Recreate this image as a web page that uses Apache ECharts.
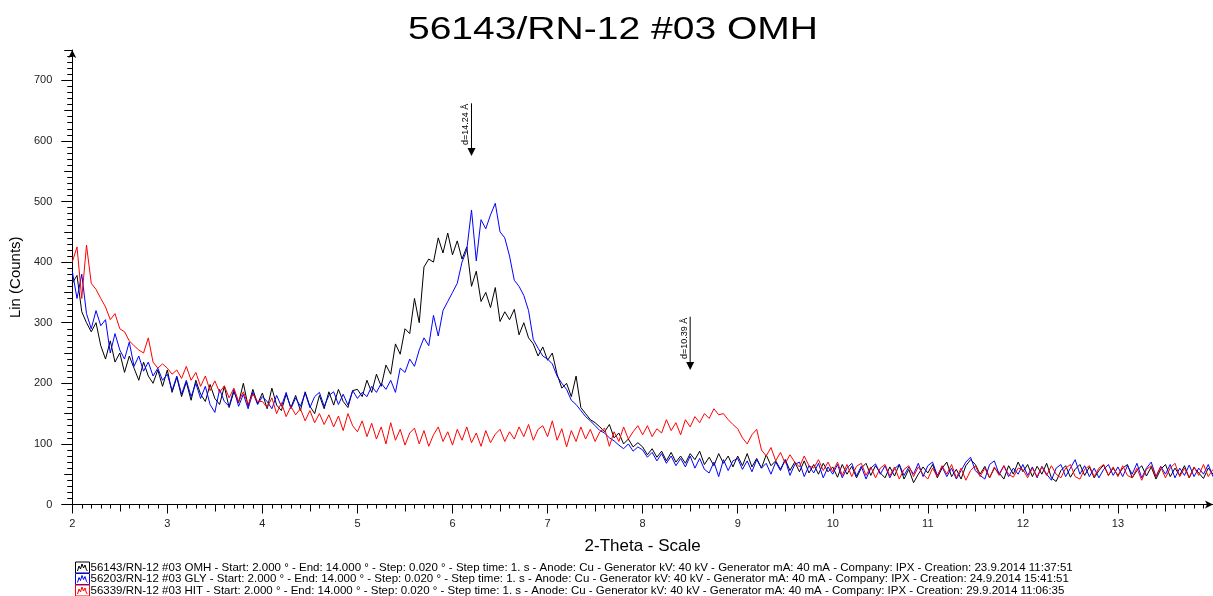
<!DOCTYPE html>
<html>
<head>
<meta charset="utf-8">
<script src="https://cdn.jsdelivr.net/npm/echarts@6/dist/echarts.min.js"></script>
<style>
html,body{margin:0;padding:0;background:#fff;}
#chart{width:1213px;height:596px;}
</style>
</head>
<body>
<div id="chart"></div>
<script>
// Scan grid (degrees 2-Theta) used by all three patterns
const twoThetaStart = 2.0;
const twoThetaStep = 0.05;

// Series values (Lin counts), every 0.05 deg from 2.00 to 14.00
const omhCounts = [
  365,378,318,300,285,300,262,240,270,235,250,218,245,225,205,235,212,200,222,195,
  222,185,210,178,202,172,205,182,170,198,175,165,195,160,186,168,200,162,190,166,
  184,158,192,164,155,182,160,180,155,186,162,150,180,158,186,164,190,170,160,188,
  190,178,205,185,215,195,230,215,265,248,290,282,340,300,392,405,400,440,415,448,
  412,435,405,425,360,385,335,350,325,358,302,318,305,322,280,300,275,265,245,260,
  238,250,215,192,200,178,212,160,150,140,135,128,120,132,110,118,100,108,95,102,
  95,82,92,78,88,72,86,70,80,68,84,74,88,66,78,64,84,68,80,62,
  80,64,84,62,76,60,82,64,72,58,74,56,70,54,72,52,66,50,68,54,
  62,45,66,50,63,44,60,68,48,64,52,44,62,47,66,42,58,36,50,62,
  52,66,44,60,70,46,58,42,64,74,66,50,63,44,60,52,42,64,50,70,
  54,66,46,63,50,68,44,38,56,64,45,58,66,48,62,44,56,65,48,60,
  48,60,66,44,56,64,47,62,42,58,66,46,60,48,64,44,61,52,43,60,
  50
];
const glyCounts = [
  385,340,380,315,290,320,295,305,250,282,255,240,268,228,245,220,235,212,225,205,
  215,188,212,182,205,178,200,175,195,165,152,190,170,162,190,162,182,158,185,165,
  178,170,158,180,162,185,158,176,162,184,160,178,185,162,180,186,165,182,164,188,
  175,185,178,195,185,200,190,205,185,225,218,240,228,255,275,262,312,278,320,335,
  350,365,400,420,486,402,470,455,478,497,450,440,410,370,360,345,320,272,258,245,
  240,232,212,200,190,172,165,155,145,138,130,122,118,110,105,98,92,100,88,95,
  90,78,86,72,84,68,80,64,76,62,80,60,76,58,52,70,46,74,56,72,
  76,58,72,54,74,60,68,50,70,56,74,48,66,70,46,64,52,68,44,62,
  50,66,44,60,68,47,63,42,60,67,50,64,44,59,66,48,62,50,68,46,
  64,70,48,62,46,60,42,56,70,78,56,48,42,66,72,50,64,46,60,50,
  66,48,62,44,63,50,40,60,66,46,60,74,50,64,46,60,44,58,66,48,
  62,46,64,50,68,44,60,70,46,63,50,66,44,60,48,65,46,60,50,66,
  46
];
const hitCounts = [
  400,425,340,428,365,355,340,326,305,315,290,285,270,262,255,250,275,235,225,232,
  225,215,222,208,228,205,218,195,212,188,204,185,196,176,192,170,186,165,182,170,
  170,160,176,150,168,145,162,148,158,138,155,135,150,132,148,128,146,122,150,130,
  120,138,112,134,108,128,100,135,106,124,98,118,126,100,122,96,115,128,104,120,
  98,124,106,128,102,118,96,122,102,116,124,104,120,108,128,112,132,106,124,130,
  112,138,106,125,95,122,104,128,108,124,104,120,126,96,120,104,128,108,120,130,
  115,130,112,125,118,140,122,135,115,140,128,145,135,150,142,158,148,150,140,132,
  125,110,100,115,124,90,80,94,72,86,68,82,70,62,80,64,60,74,56,70,
  54,70,48,66,46,63,68,48,62,44,60,66,47,62,42,58,64,46,62,50,
  42,60,46,64,50,66,44,60,40,56,64,46,60,44,62,48,64,50,45,60,
  58,44,60,46,62,48,64,50,44,60,66,46,42,58,64,46,60,66,48,62,
  46,64,48,44,60,40,58,64,46,62,44,60,68,46,60,44,62,48,66,46,
  58
];

// Series names and legend texts
const seriesNames = ['56143/RN-12 #03 OMH', '56203/RN-12 #03 GLY', '56339/RN-12 #03 HIT'];
const creationDates = ['23.9.2014 11:37:51', '24.9.2014 15:41:51', '29.9.2014 11:06:35'];
const seriesColors = ['#000000', '#0000ff', '#ff0000'];

// Tick labels
const xTickValues = [2,3,4,5,6,7,8,9,10,11,12,13];
const yTickValues = [0,100,200,300,400,500,600,700];

// d-spacing markers
const markerTwoTheta = [6.20, 8.50];
const markerTop = [662, 310];
const markerTip = [575, 222];
const markerLabels = ['d=14.24 \u00C5', 'd=10.39 \u00C5'];

const titleText = '56143/RN-12 #03 OMH';
const FONT = '"Liberation Sans", Arial, sans-serif';

function toPairs(vals) {
  return vals.map((v, i) => [+(twoThetaStart + i * twoThetaStep).toFixed(2), v]);
}
const allCounts = [omhCounts, glyCounts, hitCounts];
const legendTexts = {};
seriesNames.forEach((n, i) => {
  legendTexts[n] = n + ' - Start: 2.000 \u00B0 - End: 14.000 \u00B0 - Step: 0.020 \u00B0 - Step time: 1. s - Anode: Cu - Generator kV: 40 kV - Generator mA: 40 mA - Company: IPX - Creation: ' + creationDates[i];
});

const iconPath = 'path://M0,0H14V11H0Z M2,9L3.5,4L5,7L6.5,2L8,6L9.5,3L11,8L12,9';
const legendTops = [559.5, 571, 582.5];

const chart = echarts.init(document.getElementById('chart'), null, {renderer: 'canvas'});

const lineSeries = seriesNames.map((n, i) => ({
  name: n,
  type: 'line',
  xAxisIndex: 0,
  yAxisIndex: 0,
  data: toPairs(allCounts[i]),
  showSymbol: false,
  symbol: 'none',
  animation: false,
  lineStyle: {color: seriesColors[i], width: 1},
  itemStyle: {color: seriesColors[i]},
  z: 2 + i
}));

const markerSeries = {
  type: 'custom',
  xAxisIndex: 0,
  yAxisIndex: 0,
  silent: true,
  animation: false,
  clip: false,
  z: 10,
  data: markerTwoTheta.map((x, i) => [x, markerTop[i], markerTip[i]]),
  encode: {x: 0, y: [1, 2]},
  renderItem: function (params, api) {
    const x = api.value(0), top = api.value(1), tip = api.value(2);
    const pTop = api.coord([x, top]);
    const pTip = api.coord([x, tip]);
    const i = params.dataIndex;
    return {
      type: 'group',
      children: [
        {type: 'line', shape: {x1: pTop[0], y1: pTop[1], x2: pTip[0], y2: pTip[1] - 7}, style: {stroke: '#000', lineWidth: 1}},
        {type: 'polygon', shape: {points: [[pTip[0] - 4, pTip[1] - 8], [pTip[0] + 4, pTip[1] - 8], [pTip[0], pTip[1]]]}, style: {fill: '#000'}},
        {type: 'text', x: pTip[0] - 1, y: pTip[1] - 11, rotation: Math.PI / 2,
          style: {text: markerLabels[i], font: '9px ' + FONT, fill: '#000', align: 'left', verticalAlign: 'bottom'}}
      ]
    };
  }
};

const legends = seriesNames.map((n, i) => ({
  orient: 'horizontal',
  left: 73,
  top: legendTops[i],
  padding: 0,
  itemGap: 0,
  itemWidth: 14,
  itemHeight: 11,
  selectedMode: false,
  data: [{
    name: n,
    icon: iconPath,
    itemStyle: {color: 'none', borderColor: seriesColors[i], borderWidth: 1}
  }],
  formatter: function (name) { return legendTexts[name]; },
  textStyle: {fontSize: 11.5, fontFamily: FONT, color: '#000', padding: [0, 0, 0, -4]}
}));

const option = {
  animation: false,
  backgroundColor: '#ffffff',
  graphic: [{
    type: 'text', x: 613, y: 30, scaleX: 1.22,
    style: {text: titleText, font: '32px ' + FONT, fill: '#000', align: 'center', verticalAlign: 'middle'}
  }],
  legend: legends,
  grid: {left: 71, top: 50, width: 1147, height: 454.5, containLabel: false},
  xAxis: [
    {
      type: 'value', min: 2, max: 14, interval: 1, position: 'bottom',
      axisLine: {show: true, onZero: false, lineStyle: {color: '#000', width: 1}, symbol: ['none', 'arrow'], symbolSize: [6, 8]},
      axisTick: {show: true, length: 9, lineStyle: {color: '#000'}, customValues: xTickValues},
      axisLabel: {customValues: xTickValues, margin: 14, fontSize: 11, fontFamily: FONT, color: '#222'},
      splitLine: {show: false},
      name: '2-Theta - Scale',
      nameLocation: 'middle',
      nameGap: 33,
      nameTextStyle: {fontSize: 17, fontFamily: FONT, color: '#000'}
    },
    {
      type: 'value', min: 2, max: 14, interval: 0.5, position: 'bottom',
      axisLine: {show: false, onZero: false},
      axisTick: {show: true, length: 7, lineStyle: {color: '#000'}},
      minorTick: {show: true, splitNumber: 5, length: 4, lineStyle: {color: '#000'}},
      axisLabel: {show: false},
      splitLine: {show: false},
      minorSplitLine: {show: false}
    }
  ],
  yAxis: [
    {
      type: 'value', min: 0, max: 750, interval: 100, position: 'left',
      axisLine: {show: true, onZero: false, lineStyle: {color: '#000', width: 1}, symbol: ['none', 'arrow'], symbolSize: [6, 8]},
      axisTick: {show: true, length: 11, lineStyle: {color: '#000'}, customValues: yTickValues},
      axisLabel: {customValues: yTickValues, margin: 20, fontSize: 11, fontFamily: FONT, color: '#222'},
      splitLine: {show: false},
      name: 'Lin (Counts)',
      nameLocation: 'middle',
      nameGap: 44,
      nameTextStyle: {fontSize: 15, fontFamily: FONT, color: '#000'}
    },
    {
      type: 'value', min: 0, max: 750, interval: 50, position: 'left',
      axisLine: {show: false, onZero: false},
      axisTick: {show: true, length: 8, lineStyle: {color: '#000'}},
      minorTick: {show: true, splitNumber: 5, length: 5, lineStyle: {color: '#000'}},
      axisLabel: {show: false},
      splitLine: {show: false},
      minorSplitLine: {show: false}
    }
  ],
  series: lineSeries.concat([markerSeries])
};
chart.setOption(option);
</script>
</body>
</html>
